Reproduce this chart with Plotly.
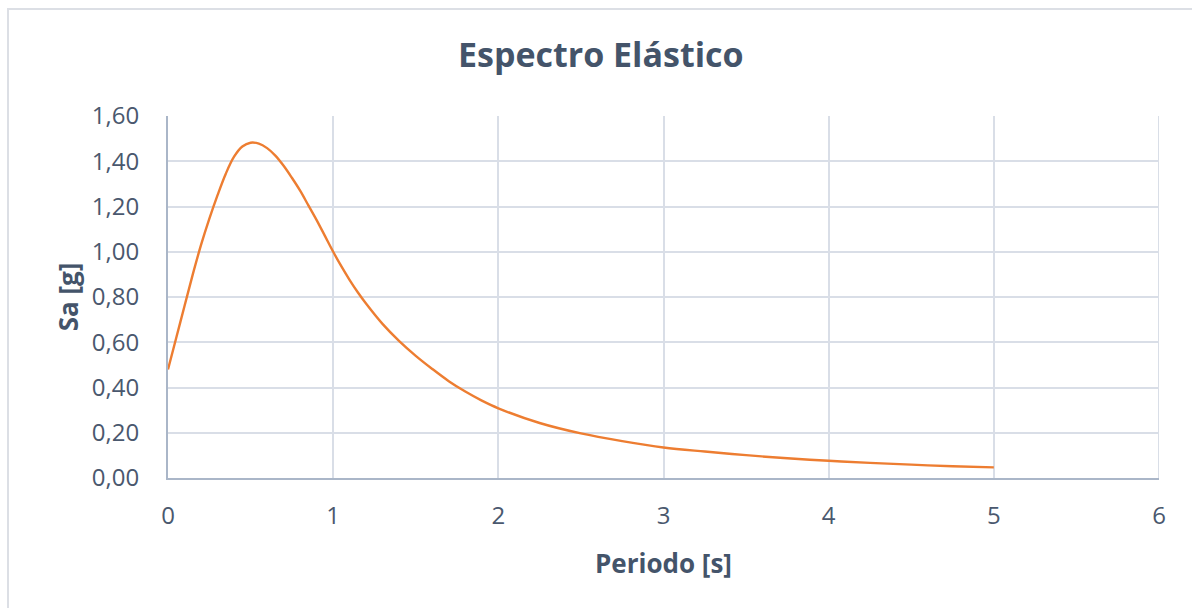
import plotly.graph_objects as go

# Elastic response spectrum: period [s] vs spectral acceleration [g]
periodo = [0, 0.05, 0.1, 0.15, 0.2, 0.25, 0.3, 0.35, 0.4, 0.45, 0.5, 0.55,
           0.6, 0.65, 0.7, 0.75, 0.8, 0.85, 0.9, 0.95, 1.0, 1.05, 1.1, 1.15,
           1.2, 1.3, 1.4, 1.5, 1.6, 1.7, 1.8, 1.9, 2.0, 2.25, 2.5, 2.75,
           3.0, 3.25, 3.5, 3.75, 4.0, 4.25, 4.5, 4.75, 5.0]
sa = [0.48, 0.62, 0.76, 0.90, 1.03, 1.145, 1.25, 1.345, 1.42, 1.465, 1.482, 1.478,
      1.458, 1.425, 1.38, 1.327, 1.27, 1.205, 1.14, 1.07, 1.0, 0.935, 0.875, 0.82,
      0.77, 0.68, 0.605, 0.54, 0.482, 0.428, 0.382, 0.342, 0.308, 0.243, 0.197, 0.163,
      0.135, 0.117, 0.101, 0.087, 0.076, 0.067, 0.059, 0.052, 0.047]

x_ticks = [0, 1, 2, 3, 4, 5, 6]
y_ticks = [0, 0.2, 0.4, 0.6, 0.8, 1.0, 1.2, 1.4, 1.6]
y_tick_text = [f"{v:.2f}".replace(".", ",") for v in y_ticks]

TEXT = "#44546A"
TICK_TEXT = "#4A586E"
GRID = "#D9DEE7"
AXIS = "#AAB6C8"
FONT = "Open Sans"

fig = go.Figure()
fig.add_trace(go.Scatter(
    x=periodo, y=sa, mode="lines",
    line=dict(color="#ED7D31", width=2.4, shape="spline", smoothing=1.0),
    hoverinfo="x+y", showlegend=False,
))

W, H = 1192, 608
L, R, T, B = 168, 33, 116, 130
pw, ph = W - L - R, H - T - B

fig.update_layout(
    width=W, height=H,
    margin=dict(l=L, r=R, t=T, b=B),
    paper_bgcolor="white", plot_bgcolor="white",
    font=dict(family=FONT, color=TEXT),
    title=dict(text="<b>Espectro Elástico</b>", x=0.504, xanchor="center",
               y=1 - 55 / H, yanchor="middle",
               font=dict(family=FONT, size=34, color=TEXT)),
    xaxis=dict(
        range=[0, 6], tickvals=x_ticks, ticktext=[str(v) for v in x_ticks],
        showgrid=True, gridcolor=GRID, gridwidth=2,
        zeroline=False, showline=True, linecolor=AXIS, linewidth=2,
        tickfont=dict(size=24, color=TICK_TEXT), ticks="", ticklabelstandoff=15,
        title=dict(text="<b>Periodo [s]</b>", font=dict(size=26, color=TEXT), standoff=25),
    ),
    yaxis=dict(
        range=[0, 1.6], tickvals=y_ticks, ticktext=y_tick_text,
        showgrid=True, gridcolor=GRID, gridwidth=2,
        zeroline=False, showline=True, linecolor=AXIS, linewidth=2,
        tickfont=dict(size=24, color=TICK_TEXT), ticks="", ticklabelstandoff=22,
        title=dict(text="<b>Sa [g]</b>", font=dict(size=26, color=TEXT), standoff=6),
    ),
)

# Right boundary of the grid at period 6
fig.add_shape(type="line", xref="x", yref="y", x0=6, x1=6, y0=0, y1=1.6,
              line=dict(color=GRID, width=2), layer="below")

# Chart frame
fig.add_shape(type="rect", xref="paper", yref="paper",
              x0=(8 - L) / pw, x1=(W + 20 - L) / pw,
              y0=-(B + 20) / ph, y1=1 + (T - 9) / ph,
              line=dict(color="#DCDFE5", width=2), fillcolor="rgba(0,0,0,0)")

fig.write_html("out.html")
